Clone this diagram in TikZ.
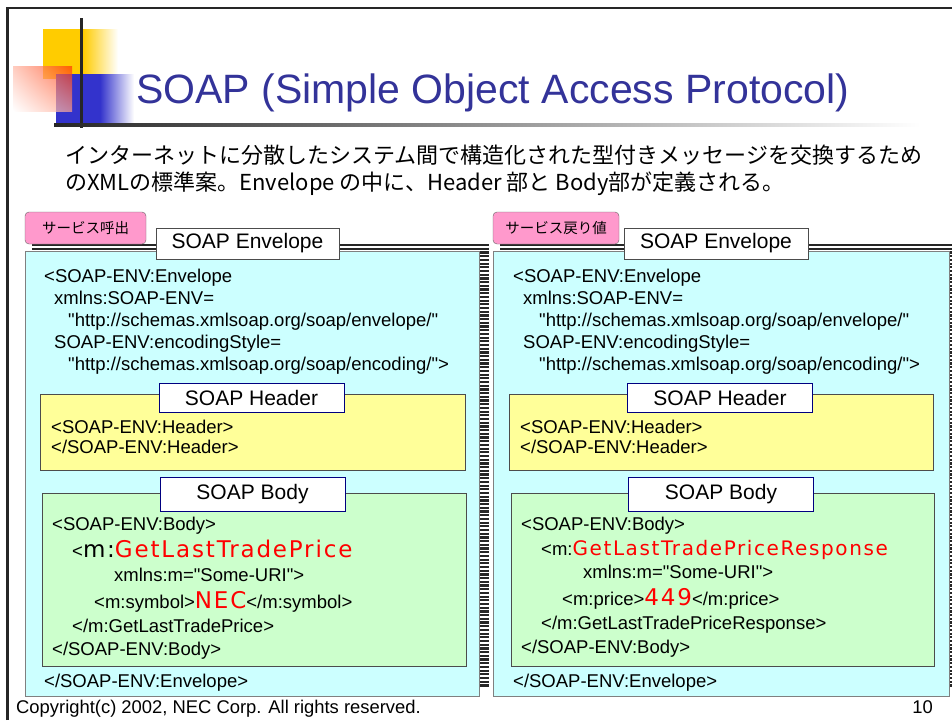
\documentclass[tikz,border=0pt]{standalone}
\usepackage{fontspec}
\usetikzlibrary{shadings}
\setmainfont{Liberation Sans}
\newfontfamily\codefont{Liberation Sans}
\newfontfamily\jpfont{Noto Sans CJK JP}
\newfontfamily\widefont[LetterSpace=8]{DejaVu Sans}
\definecolor{soapblue}{RGB}{51, 51, 153}
\definecolor{logoblue}{RGB}{51, 51, 204}
\definecolor{logoyellow}{RGB}{255, 204, 0}
\definecolor{logored}{RGB}{255, 51, 0}
\definecolor{envcyan}{RGB}{204, 255, 255}
\definecolor{hdryellow}{RGB}{255, 255, 153}
\definecolor{bdygreen}{RGB}{204, 255, 204}
\definecolor{tagpink}{RGB}{255, 153, 204}
\definecolor{tagnavy}{RGB}{0, 0, 128}
\newcommand{\redbig}[1]{{\widefont\fontsize{23}{26}\selectfont\color{red}#1}}
\newcommand{\redmid}[1]{{\widefont\fontsize{20}{24}\selectfont\color{red}#1}}

\begin{document}
\begin{tikzpicture}[x=1pt, y=-1pt,
    code/.style={anchor=base west, inner sep=0pt, font=\codefont\fontsize{18.5}{22}\selectfont},
    tagbox/.style={draw=black!70, fill=white, inner sep=0pt, font=\fontsize{21}{24}\selectfont},
    partbox/.style={draw=tagnavy, fill=white, inner sep=0pt, font=\fontsize{21}{24}\selectfont},
    callbox/.style={draw=black!60, fill=tagpink, rounded corners=4pt, inner sep=0pt, font=\jpfont\fontsize{14.5}{16}\selectfont},
    band/.style={line width=2pt, black!85},
    sideband/.style={line width=9pt, black!85, dash pattern=on 2.2pt off 1.5pt}]
    \useasboundingbox (0,0) rectangle (952,720);
    % Slide frame
    \draw[line width=2.5pt, black!85] (7.5,720) -- (7.5,8) -- (952,8);

    % Logo
    \fill[logoyellow] (43,29) rectangle (83,79);
    \shade[left color=logoyellow, right color=white] (83,29) rectangle (118,79);
    \fill[logoblue] (56,74) rectangle (100,124);
    \shade[left color=logoblue, right color=white] (100,74) rectangle (134,124);
    \shade[upper right=logored, lower left=white, upper left=logored!35, lower right=logored!45, opacity=0.7] (13,66) rectangle (72,111);
    \draw[line width=3.5pt, black!85] (81.5,18) -- (81.5,128);
    \shade[left color=black!85, right color=white] (54,123.5) rectangle (920,126.5);

    % Title and intro
    \node[anchor=base west, inner sep=0pt, text=soapblue, font=\fontsize{41}{48}\selectfont] (title) at (136,103) {SOAP (Simple Object Access Protocol)};
    \node[anchor=base west, inner sep=0pt, font=\jpfont\fontsize{22}{27}\selectfont] (intro1) at (65,163) {インターネットに分散したシステム間で構造化された型付きメッセージを交換するため};
    \node[anchor=base west, inner sep=0pt, font=\jpfont\fontsize{22}{27}\selectfont] (intro2) at (65,190) {のXMLの標準案。Envelope の中に、Header 部と Body部が定義される。};

    % Request envelope
    \fill[envcyan, draw=black!50] (25,251) rectangle (479,696);
    \draw[band] (32,245) -- (489,245);
    \draw[band] (32,249) -- (489,249);
    \draw[sideband] (484.5,244) -- (484.5,687);
    \node[callbox, minimum width=121, minimum height=32] (callreq) at (85.5,228) {サービス呼出};
    \node[tagbox, minimum width=183, minimum height=31] (envreq) at (247.5,243.5) {SOAP Envelope};
    \node[code] (reqenv1) at (44,282) {<SOAP-ENV:Envelope};
    \node[code] (reqenv2) at (54,304) {xmlns:SOAP-ENV=};
    \node[code] (reqenv3) at (68,326) {"http://schemas.xmlsoap.org/soap/envelope/"};
    \node[code] (reqenv4) at (54,348) {SOAP-ENV:encodingStyle=};
    \node[code] (reqenv5) at (68,370) {"http://schemas.xmlsoap.org/soap/encoding/">};
    % header
    \fill[hdryellow, draw=black!70] (40,394) rectangle (465,470);
    \node[partbox, minimum width=185, minimum height=29] (hdrreq) at (251.5,398) {SOAP Header};
    \node[code] (reqhdr1) at (51,433) {<SOAP-ENV:Header>};
    \node[code] (reqhdr2) at (51,453) {</SOAP-ENV:Header>};
    % body
    \fill[bdygreen, draw=black!70] (42,493) rectangle (466,666);
    \node[partbox, minimum width=185, minimum height=34] (bdyreq) at (252.5,494) {SOAP Body};
    \node[code] (reqbdy1) at (52,530) {<SOAP-ENV:Body>};
    \node[code] (reqbdy2) at (72,557) {<{\widefont\fontsize{23}{26}\selectfont m:}\redbig{GetLastTradePrice}};
    \node[code] (reqbdy3) at (114,581) {xmlns:m="Some-URI">};
    \node[code] (reqbdy4) at (94,608) {<m:symbol>\redbig{NEC}</m:symbol>};
    \node[code] (reqbdy5) at (72,632) {</m:GetLastTradePrice>};
    \node[code] (reqbdy6) at (52,655) {</SOAP-ENV:Body>};
    \node[code] (reqenv6) at (44,687) {</SOAP-ENV:Envelope>};

    % Response envelope
    \fill[envcyan, draw=black!50] (493,251) rectangle (949,696);
    \draw[band] (500,245) -- (960,245);
    \draw[band] (500,249) -- (960,249);
    \draw[sideband] (954.5,244) -- (954.5,687);
    \node[callbox, minimum width=126, minimum height=32] (callres) at (556,228) {サービス戻り値};
    \node[tagbox, minimum width=184, minimum height=31] (envres) at (716,243.5) {SOAP Envelope};
    \node[code] (resenv1) at (513,282) {<SOAP-ENV:Envelope};
    \node[code] (resenv2) at (523,304) {xmlns:SOAP-ENV=};
    \node[code] (resenv3) at (539,326) {"http://schemas.xmlsoap.org/soap/envelope/"};
    \node[code] (resenv4) at (523,348) {SOAP-ENV:encodingStyle=};
    \node[code] (resenv5) at (539,370) {"http://schemas.xmlsoap.org/soap/encoding/">};
    % header
    \fill[hdryellow, draw=black!70] (509,394) rectangle (933,470);
    \node[partbox, minimum width=185, minimum height=29] (hdrres) at (720,398) {SOAP Header};
    \node[code] (reshdr1) at (520,433) {<SOAP-ENV:Header>};
    \node[code] (reshdr2) at (520,453) {</SOAP-ENV:Header>};
    % body
    \fill[bdygreen, draw=black!70] (511,493) rectangle (934,666);
    \node[partbox, minimum width=185, minimum height=34] (bdyres) at (721,494) {SOAP Body};
    \node[code] (resbdy1) at (521,530) {<SOAP-ENV:Body>};
    \node[code] (resbdy2) at (541,555) {<m:\redmid{GetLastTradePriceResponse}};
    \node[code] (resbdy3) at (583,578) {xmlns:m="Some-URI">};
    \node[code] (resbdy4) at (562,605) {<m:price>\redbig{449}</m:price>};
    \node[code] (resbdy5) at (541,629) {</m:GetLastTradePriceResponse>};
    \node[code] (resbdy6) at (521,653) {</SOAP-ENV:Body>};
    \node[code] (resenv6) at (513,687) {</SOAP-ENV:Envelope>};

    % Footer
    \node[anchor=base west, inner sep=0pt, font=\fontsize{18.4}{20}\selectfont] (copy) at (16,713) {Copyright(c) 2002, NEC Corp. All rights reserved.};
    \node[anchor=base east, inner sep=0pt, font=\fontsize{18.4}{20}\selectfont] (page) at (933,713) {10};
\end{tikzpicture}
\end{document}
